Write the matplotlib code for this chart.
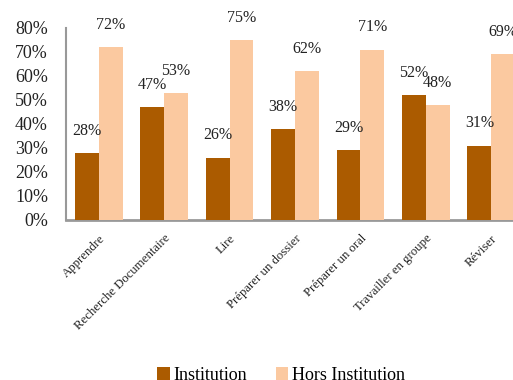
import numpy as np
import matplotlib.pyplot as plt

categories = ["Apprendre", "Recherche Documentaire", "Lire", "Préparer un dossier",
              "Préparer un oral", "Travailler en groupe", "Réviser"]
institution = [28, 47, 26, 38, 29, 52, 31]
hors_institution = [72, 53, 75, 62, 71, 48, 69]

plt.rcParams['font.family'] = ['Liberation Serif', 'DejaVu Serif']

fig = plt.figure(figsize=(5.13, 3.8), dpi=100)
ax = fig.add_axes([66 / 513, 160 / 380, 458 / 513, 192 / 380])

x = np.arange(len(categories))
w = 0.365
b1 = ax.bar(x - w / 2, institution, w, color="#AB5B00", label="Institution", zorder=3)
b2 = ax.bar(x + w / 2, hors_institution, w, color="#FBC9A0", label="Hors Institution", zorder=3)

# value labels sit well above each bar
for bars, vals in ((b1, institution), (b2, hors_institution)):
    for rect, v in zip(bars, vals):
        ax.annotate(f"{v}%", (rect.get_x() + rect.get_width() / 2, v),
                    xytext=(0, 16), textcoords="offset points",
                    ha="center", va="center", fontsize=11.5, color="#222222",
                    annotation_clip=False)

ax.set_xlim(-0.5, len(categories) - 0.5)
ax.set_ylim(0, 80)
ax.set_yticks(range(0, 81, 10))
ax.set_yticklabels([f"{t}%" for t in range(0, 81, 10)], fontsize=13, color="#222222")
ax.set_xticks(x)
ax.set_xticklabels(categories, rotation=45, ha="right", rotation_mode="anchor",
                   fontsize=9.2, color="#222222")
ax.tick_params(axis="y", length=0, pad=13)
ax.tick_params(axis="x", length=0, pad=9)

for side in ("top", "right"):
    ax.spines[side].set_visible(False)
ax.spines["left"].set_color("#999999")
ax.spines["bottom"].set_color("#999999")
ax.spines["left"].set_linewidth(1.5)
ax.spines["bottom"].set_linewidth(2)

fig.legend(handles=[b1, b2], loc="center", bbox_to_anchor=(281 / 513, 5 / 380),
           ncol=2, frameon=False, fontsize=13, handlelength=0.7, handleheight=0.7,
           handletextpad=0.2, columnspacing=1.6)

fig.savefig("out.png", dpi=100)
